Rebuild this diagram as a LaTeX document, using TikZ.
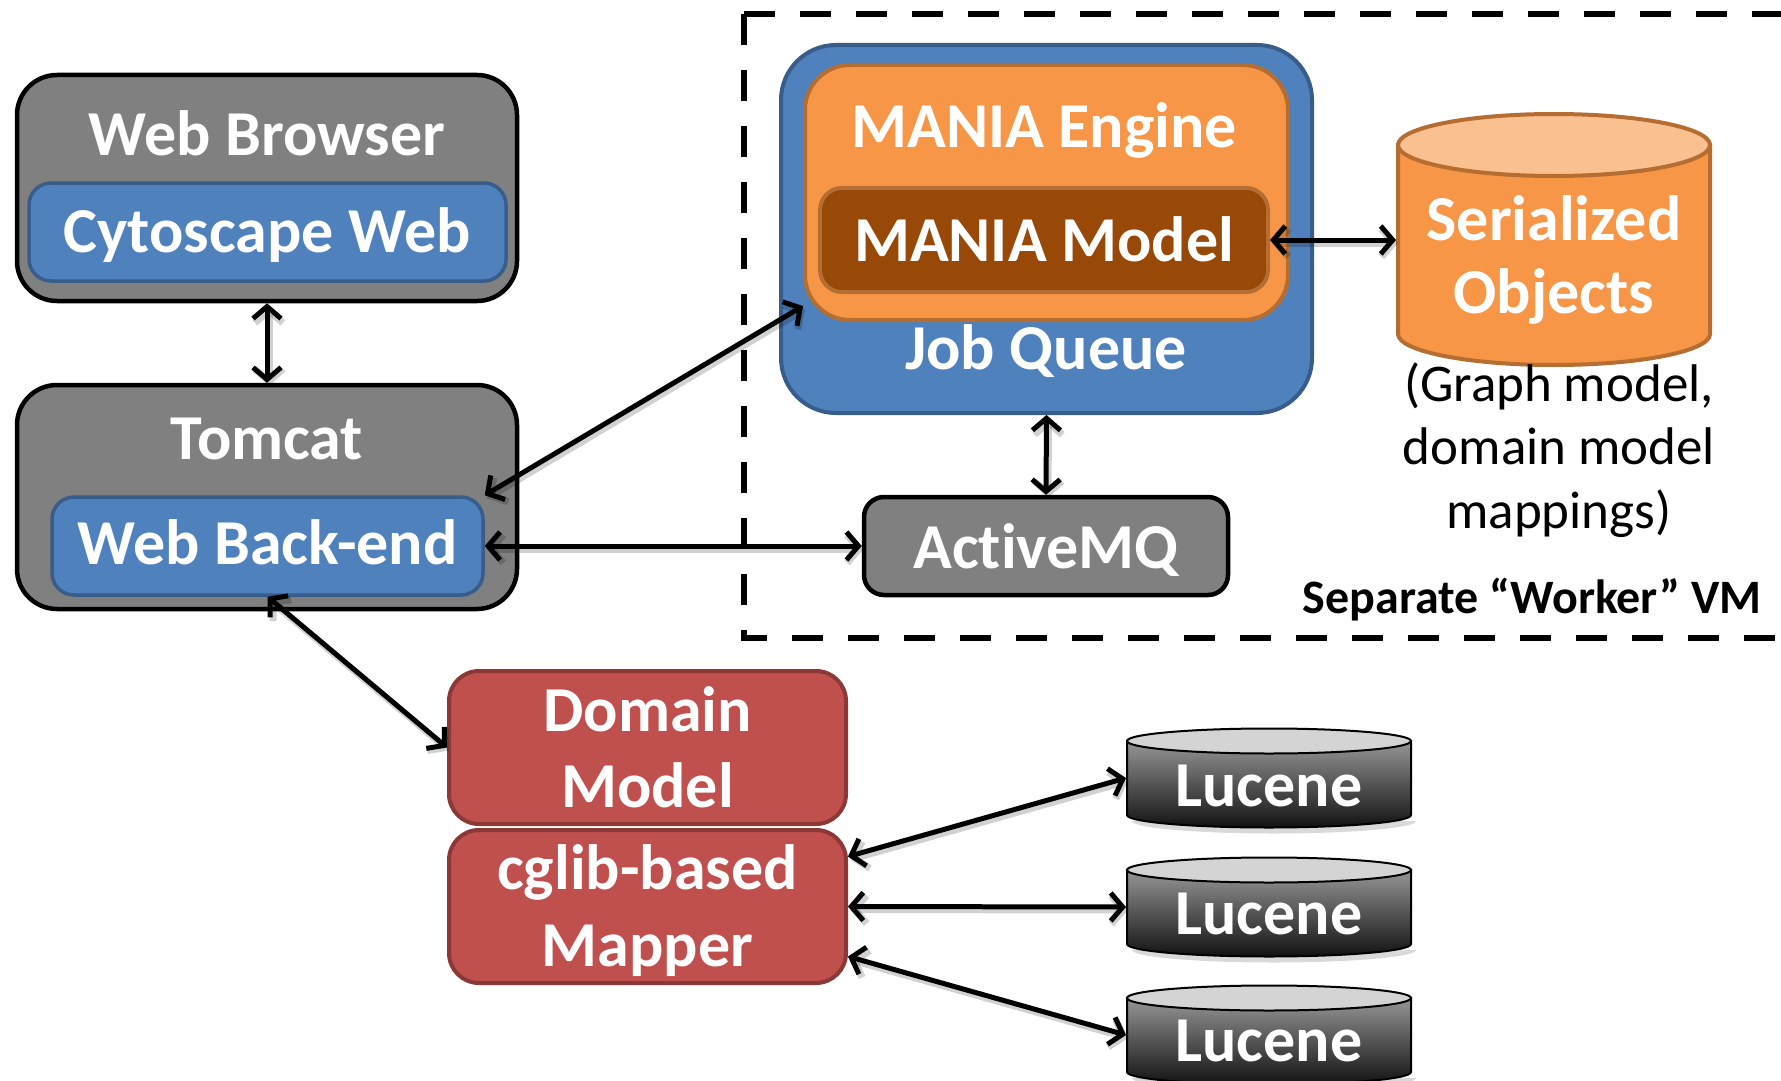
\documentclass[tikz,border=0pt]{standalone}
\usepackage{fontspec}
\setmainfont{Carlito}[Ligatures=NoCommon]
\usetikzlibrary{arrows.meta,calc}
\definecolor{gfill}{RGB}{128,128,128}
\definecolor{bfill}{RGB}{79,129,189}
\definecolor{bline}{RGB}{56,93,138}
\definecolor{ofill}{RGB}{247,150,70}
\definecolor{oline}{RGB}{182,109,49}
\definecolor{otop}{RGB}{250,192,144}
\definecolor{mfill}{RGB}{152,72,7}
\definecolor{rfill}{RGB}{192,80,77}
\definecolor{rline}{RGB}{140,56,54}
\definecolor{lucTop}{RGB}{150,150,150}
\definecolor{lucBot}{RGB}{18,18,18}
\definecolor{lucCap}{RGB}{212,212,212}
\begin{document}
\begin{tikzpicture}[x=1pt,y=-1pt,
  lbl/.style={text=white,font=\bfseries\fontsize{64}{76}\selectfont,anchor=base,inner sep=0pt},
  caption/.style={text=black,font=\fontsize{53}{63}\selectfont,anchor=base,inner sep=0pt},
  vmlabel/.style={text=black,font=\bfseries\fontsize{48}{58}\selectfont,anchor=base east,inner sep=0pt},
  gbox/.style={draw=black,fill=gfill,line width=4.5pt,rounded corners=40pt,inner sep=0pt},
  gsmall/.style={draw=black,fill=gfill,line width=4.5pt,rounded corners=20pt,inner sep=0pt},
  bbox/.style={draw=bline,fill=bfill,line width=3.5pt,rounded corners=22pt,inner sep=0pt},
  jqbox/.style={draw=bline,fill=bfill,line width=4pt,rounded corners=55pt,inner sep=0pt},
  obox/.style={draw=oline,fill=ofill,line width=4pt,rounded corners=45pt,inner sep=0pt},
  mbox/.style={draw=oline,fill=mfill,line width=4pt,rounded corners=22pt,inner sep=0pt},
  rbox/.style={draw=rline,fill=rfill,line width=4pt,rounded corners=30pt,inner sep=0pt},
  arr/.style={draw=black,line width=5pt,
    {Straight Barb[length=12pt,width=28pt]}-{Straight Barb[length=12pt,width=28pt]},
    preaction={draw=black,opacity=0.18,line width=7pt,transform canvas={shift={(2pt,-3pt)}}}},
  vmframe/.style={draw=black,line width=6.5pt,dash pattern=on 31pt off 25pt,line join=miter}
]
\fill[white] (0,0) rectangle (1781,1081);
\useasboundingbox (0,0) rectangle (1781,1081);
\clip (0,0) rectangle (1781,1081);

% Worker VM frame
\draw[vmframe] (744,14) -- (1790,14);
\draw[vmframe] (744,14) -- (744,638) -- (1790,638);
\draw[line width=6.5pt,dash pattern=on 31pt off 25pt] (1784,14) -- (1784,638);
\node[vmlabel] (vm) at (1762,613) {Separate “Worker” VM};

% Web browser
\node[gbox,minimum width=500pt,minimum height=226pt] (wb) at (267,188) {};
\node[bbox,minimum width=477pt,minimum height=98pt] (cw) at (267.5,232) {};
\node[lbl] (wbt) at (267,155) {Web Browser};
\node[lbl] (cwt) at (267,252) {Cytoscape Web};

% Tomcat
\node[gbox,minimum width=500pt,minimum height=224pt] (tc) at (267,497) {};
\node[bbox,minimum width=431pt,minimum height=98pt] (wbe) at (267.5,546) {};
\node[lbl] (tct) at (267,459) {Tomcat};
\node[lbl] (wbet) at (267.5,564) {Web Back-end};

% Job queue
\node[jqbox,minimum width=531pt,minimum height=368pt] (jq) at (1046.5,229) {};
\node[obox,minimum width=483pt,minimum height=255pt] (me) at (1046.5,192.5) {};
\node[mbox,minimum width=448pt,minimum height=104pt] (mm) at (1044,240) {};
\node[lbl] (met) at (1044,147) {MANIA Engine};
\node[lbl] (mmt) at (1044,261) {MANIA Model};
\node[lbl] (jqt) at (1046,369) {Job Queue};

% ActiveMQ
\node[gsmall,minimum width=364pt,minimum height=98pt] (amq) at (1046,546) {};
\node[lbl] (amqt) at (1046,568) {ActiveMQ};

% Serialized objects cylinder
\draw[draw=oline,fill=ofill,line width=4pt]
  (1398,145) -- (1398,334) arc[start angle=180,end angle=360,x radius=156pt,y radius=31pt] -- (1710,145) -- cycle;
\draw[draw=oline,fill=otop,line width=4pt] (1554,145) ellipse[x radius=156pt,y radius=31pt];
\coordinate (soW) at (1396,240);
\node[lbl] (so1) at (1554,240) {Serialized};
\node[lbl] (so2) at (1554,313) {Objects};
\node[caption] (c1) at (1559,401) {(Graph model,};
\node[caption] (c2) at (1559,464) {domain model};
\node[caption] (c3) at (1559,528) {mappings)};

% Domain model + mapper
\node[rbox,minimum width=397pt,minimum height=153pt] (dm) at (647.5,747.5) {};
\node[rbox,minimum width=397pt,minimum height=153pt] (cg) at (647.5,906.5) {};
\node[lbl] (dmt1) at (647.5,731) {Domain};
\node[lbl] (dmt2) at (647.5,807) {Model};
\node[lbl] (cgt1) at (647.5,889) {cglib-based};
\node[lbl] (cgt2) at (647.5,966) {Mapper};

% Lucene cylinders
\foreach \n/\cy in {1/741,2/870,3/998}{
  \fill[black,opacity=0.15] (1132,\cy+80) arc[start angle=180,end angle=360,x radius=142pt,y radius=12.5pt] -- cycle;
  \shade[top color=lucTop,bottom color=lucBot,draw=black,line width=2pt]
    (1127,\cy) -- (1127,\cy+74) arc[start angle=180,end angle=360,x radius=142pt,y radius=12.5pt] -- (1411,\cy) -- cycle;
  \draw[fill=lucCap,draw=black,line width=2pt] (1269,\cy) ellipse[x radius=142pt,y radius=12.5pt];
  \coordinate (l\n) at (1126,\cy+37);
}
\node[lbl] (lt1) at (1269,806) {Lucene};
\node[lbl] (lt2) at (1269,934) {Lucene};
\node[lbl] (lt3) at (1269,1061) {Lucene};

% connectors
\draw[arr] (wb.south) -- (tc.north);
\draw[arr] (wbe.north east) -- (me.205);
\draw[arr] (wbe.east) -- (amq.west);
\draw[arr] (jq.south) -- (amq.north);
\draw[arr] (mm.east) -- (soW);
\draw[arr] (wbe.south) -- (dm.west);
\draw[arr] (cg.14.7) -- (l1);
\draw[arr] (cg.east) -- (l2);
\draw[arr] (cg.-14.5) -- (l3);
\end{tikzpicture}
\end{document}
